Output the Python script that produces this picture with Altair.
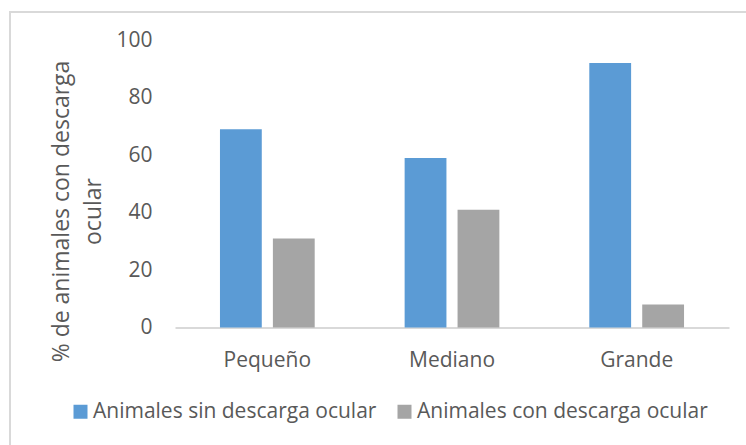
import altair as alt
import pandas as pd

# Tamaño del animal y porcentaje por grupo
categorias = ["Pequeño", "Mediano", "Grande"]
series = ["Animales sin descarga ocular", "Animales con descarga ocular"]
sin_descarga = [69, 59, 92]
con_descarga = [31, 41, 8]
colores = ["#5B9BD5", "#A5A5A5"]
ticks_y = [0, 20, 40, 60, 80, 100]

filas = []
for cat, a, b in zip(categorias, sin_descarga, con_descarga):
    filas.append({"Tamaño": cat, "Serie": series[0], "Porcentaje": a})
    filas.append({"Tamaño": cat, "Serie": series[1], "Porcentaje": b})
df = pd.DataFrame(filas)

FUENTE = "Open Sans"
GRIS_TEXTO = "#595959"
GRIS_LINEA = "#D9D9D9"
TAM_ETIQUETA = 21

barras = alt.Chart(df).mark_bar().encode(
    x=alt.X(
        "Tamaño:N",
        sort=categorias,
        scale=alt.Scale(paddingInner=0.487, paddingOuter=0.2435),
        axis=alt.Axis(
            title=None,
            labelAngle=0,
            labelFont=FUENTE,
            labelFontSize=TAM_ETIQUETA,
            labelColor=GRIS_TEXTO,
            labelPadding=22,
            ticks=False,
            domainColor=GRIS_LINEA,
            domainWidth=2,
        ),
    ),
    xOffset=alt.XOffset(
        "Serie:N", sort=series, scale=alt.Scale(paddingInner=0.21, paddingOuter=0)
    ),
    y=alt.Y(
        "Porcentaje:Q",
        scale=alt.Scale(domain=[0, 100], nice=False),
        axis=alt.Axis(
            values=ticks_y,
            title=["% de animales con descarga", "ocular"],
            titleFont=FUENTE,
            titleFontSize=23,
            titleFontWeight="normal",
            titleColor=GRIS_TEXTO,
            titleAngle=270,
            titleAlign="center",
            titleBaseline="bottom",
            titleLineHeight=32,
            titleX=-102,
            titleY=171,
            labelFont=FUENTE,
            labelFontSize=TAM_ETIQUETA,
            labelColor=GRIS_TEXTO,
            labelPadding=23,
            ticks=False,
            domain=False,
            grid=False,
        ),
    ),
    color=alt.Color(
        "Serie:N",
        sort=series,
        scale=alt.Scale(domain=series, range=colores),
        legend=alt.Legend(
            title=None,
            orient="none",
            direction="horizontal",
            legendX=-105,
            legendY=361,
            symbolType="square",
            symbolSize=196,
            symbolStrokeWidth=0,
            symbolOpacity=1,
            labelFont=FUENTE,
            labelFontSize=TAM_ETIQUETA,
            labelColor=GRIS_TEXTO,
            labelLimit=0,
            labelOffset=2,
            columnPadding=17,
            padding=0,
        ),
    ),
)

# Marco exterior del gráfico
marco = alt.Chart(alt.Data(values=[{}])).mark_rect(
    fill=None, stroke=GRIS_LINEA, strokeWidth=2
).encode(
    x=alt.value(-165), x2=alt.value(800), y=alt.value(-28), y2=alt.value(500)
)

chart = alt.layer(marco, barras).properties(
    width=554,
    height=287.5,
    padding={"left": 175, "top": 40, "right": 17, "bottom": 118},
    autosize=alt.AutoSizeParams(type="none"),
    background="white",
).configure_view(stroke=None)

chart.save("out.html", embed_options={"renderer": "svg", "actions": False})
